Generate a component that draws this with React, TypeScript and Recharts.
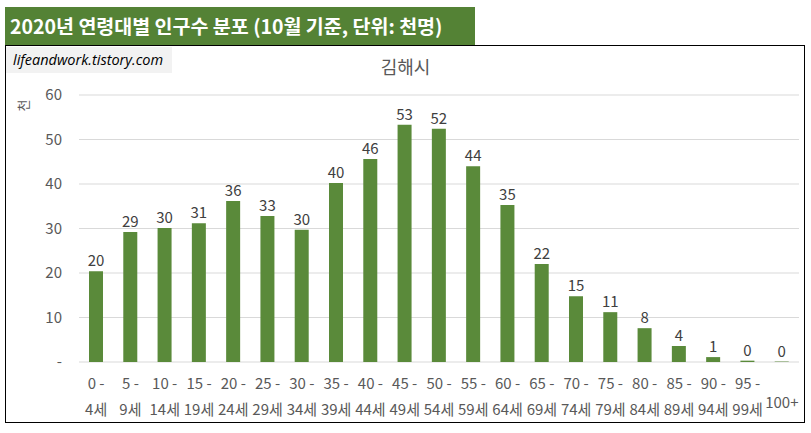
import React from 'react'
import { BarChart, Bar, XAxis, YAxis, CartesianGrid, LabelList } from 'recharts'

const ageGroups = [
  '0 - 4세', '5 - 9세', '10 - 14세', '15 - 19세', '20 - 24세', '25 - 29세', '30 - 34세',
  '35 - 39세', '40 - 44세', '45 - 49세', '50 - 54세', '55 - 59세', '60 - 64세', '65 - 69세',
  '70 - 74세', '75 - 79세', '80 - 84세', '85 - 89세', '90 - 94세', '95 - 99세', '100+',
]
const population = [
  20.4, 29.2, 30.1, 31.2, 36.2, 32.8, 29.7, 40.2, 45.6, 53.3, 52.4,
  44.0, 35.3, 22.0, 14.8, 11.2, 7.6, 3.6, 1.1, 0.3, 0.1,
]
const yTicks = [0, 10, 20, 30, 40, 50, 60]

const data = ageGroups.map((age, i) => ({ age, value: population[i] }))

const FONT = "'Noto Sans CJK KR', 'Noto Sans', sans-serif"
const GREEN = '#548235'

function AgeTick({ x, y, payload }: any) {
  const parts = String(payload.value).split(' - ')
  if (parts.length < 2) {
    return (
      <text x={x} y={y + 44} textAnchor="middle" fill="#595959" fontSize={15} fontFamily={FONT}>
        {parts[0]}
      </text>
    )
  }
  return (
    <g>
      <text x={x} y={y + 25} textAnchor="middle" fill="#595959" fontSize={15} fontFamily={FONT}>
        {parts[0] + ' -'}
      </text>
      <text x={x} y={y + 51} textAnchor="middle" fill="#595959" fontSize={15} fontFamily={FONT}>
        {parts[1]}
      </text>
    </g>
  )
}

export default function App() {
  return (
    <div style={{ position: 'fixed', left: 0, top: 0, width: 811, height: 433, background: '#fff', fontFamily: FONT }}>
      <div
        style={{
          position: 'absolute', left: 5, top: 45, width: 798, height: 376,
          border: '1px solid #000',
        }}
      />
      <div
        style={{
          position: 'absolute', left: 5, top: 7, width: 470, height: 38, background: GREEN,
          color: '#fff', fontWeight: 'bold', fontSize: 19.5, lineHeight: '38px', paddingLeft: 5,
          boxSizing: 'border-box', whiteSpace: 'nowrap',
        }}
      >
        2020년 연령대별 인구수 분포 (10월 기준, 단위: 천명)
      </div>
      <div
        style={{
          position: 'absolute', left: 6, top: 47, width: 166, height: 26, background: '#f2f2f2',
          fontStyle: 'italic', fontSize: 14.5, lineHeight: '26px', paddingLeft: 7,
          boxSizing: 'border-box', color: '#000', whiteSpace: 'nowrap',
          fontFamily: "'Open Sans', 'Noto Sans', sans-serif",
        }}
      >
        lifeandwork.tistory.com
      </div>
      <div
        style={{
          position: 'absolute', left: 0, width: 811, top: 53, textAlign: 'center',
          fontSize: 18, color: '#595959',
        }}
      >
        김해시
      </div>
      <div
        style={{
          position: 'absolute', left: 17, top: 96, fontSize: 13, color: '#595959',
          transform: 'rotate(-90deg)',
        }}
      >
        천
      </div>
      <BarChart
        width={811}
        height={433}
        data={data}
        margin={{ top: 95, right: 12, bottom: 11, left: 0 }}
        style={{ position: 'absolute', left: 0, top: 0 }}
      >
        <CartesianGrid vertical={false} stroke="#d9d9d9" />
        <XAxis
          dataKey="age"
          interval={0}
          height={60}
          tickLine={false}
          axisLine={false}
          tickSize={0}
          tick={<AgeTick />}
        />
        <YAxis
          width={79}
          domain={[0, 60]}
          ticks={yTicks}
          tickLine={false}
          axisLine={false}
          tickSize={0}
          tickMargin={17}
          tick={{ fontSize: 15, fill: '#595959', fontFamily: FONT }}
          tickFormatter={(v: number) => (v === 0 ? '-' : String(v))}
        />
        <Bar dataKey="value" fill="#5a8a3a" barSize={14} isAnimationActive={false}>
          <LabelList
            dataKey="value"
            position="top"
            fill="#404040"
            fontSize={15}
            fontFamily={FONT}
            formatter={(v: any) => String(Math.round(Number(v)))}
          />
        </Bar>
      </BarChart>
    </div>
  )
}
